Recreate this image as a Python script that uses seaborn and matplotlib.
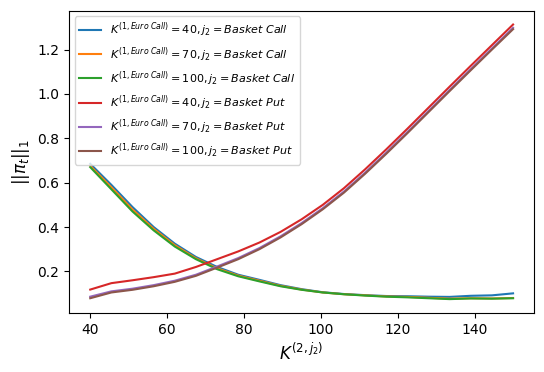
import numpy as np
import pandas as pd
import matplotlib
matplotlib.use("Agg")
import matplotlib.pyplot as plt
import seaborn as sns

strikes = [40, 45.5, 51, 56.5, 62, 67.5, 73, 78.5, 84, 89.5, 95, 100.5, 106, 111.5, 117, 122.5, 128, 133.5, 139, 144.5, 150]

call_40 = [0.685, 0.59, 0.49, 0.40, 0.325, 0.265, 0.22, 0.185, 0.162, 0.138, 0.12, 0.106, 0.098, 0.093, 0.089, 0.088, 0.086, 0.085, 0.09, 0.092, 0.101]
call_70 = [0.676, 0.579, 0.479, 0.392, 0.318, 0.259, 0.214, 0.181, 0.158, 0.135, 0.118, 0.105, 0.097, 0.092, 0.087, 0.085, 0.081, 0.077, 0.079, 0.078, 0.08]
call_100 = [0.67, 0.57, 0.47, 0.385, 0.312, 0.255, 0.21, 0.178, 0.155, 0.133, 0.117, 0.105, 0.097, 0.091, 0.086, 0.083, 0.079, 0.075, 0.078, 0.077, 0.079]
put_40 = [0.118, 0.147, 0.16, 0.174, 0.19, 0.22, 0.255, 0.29, 0.33, 0.378, 0.435, 0.5, 0.575, 0.66, 0.75, 0.843, 0.938, 1.033, 1.127, 1.22, 1.313]
put_70 = [0.086, 0.11, 0.122, 0.138, 0.158, 0.185, 0.222, 0.26, 0.305, 0.358, 0.418, 0.485, 0.56, 0.645, 0.735, 0.828, 0.923, 1.018, 1.112, 1.205, 1.298]
put_100 = [0.079, 0.105, 0.117, 0.133, 0.153, 0.18, 0.217, 0.255, 0.3, 0.353, 0.413, 0.48, 0.555, 0.64, 0.73, 0.823, 0.918, 1.013, 1.107, 1.2, 1.292]

labels = [
    r"$K^{(1, Euro\ Call)} = 40, j_2 = Basket\ Call$",
    r"$K^{(1, Euro\ Call)} = 70, j_2 = Basket\ Call$",
    r"$K^{(1, Euro\ Call)} = 100, j_2 = Basket\ Call$",
    r"$K^{(1, Euro\ Call)} = 40, j_2 = Basket\ Put$",
    r"$K^{(1, Euro\ Call)} = 70, j_2 = Basket\ Put$",
    r"$K^{(1, Euro\ Call)} = 100, j_2 = Basket\ Put$",
]
series = [call_40, call_70, call_100, put_40, put_70, put_100]

rows = []
for lab, vals in zip(labels, series):
    for k, v in zip(strikes, vals):
        rows.append({"strike": k, "norm": v, "series": lab})
df = pd.DataFrame(rows)

fig, ax = plt.subplots(figsize=(5.44, 3.72), dpi=100)
sns.lineplot(data=df, x="strike", y="norm", hue="series", hue_order=labels,
             palette="tab10", ax=ax, linewidth=1.5)
ax.set_xlabel(r"$K^{(2, j_2)}$", fontsize=12)
ax.set_ylabel(r"$||\pi_t||_1$", fontsize=12)
ax.set_xticks([40, 60, 80, 100, 120, 140])
ax.set_yticks([0.2, 0.4, 0.6, 0.8, 1.0, 1.2])
ax.legend(title=None, fontsize=8, loc="upper left")
fig.subplots_adjust(left=0.127, right=0.982, top=0.971, bottom=0.159)
fig.savefig("out.png", dpi=100)
